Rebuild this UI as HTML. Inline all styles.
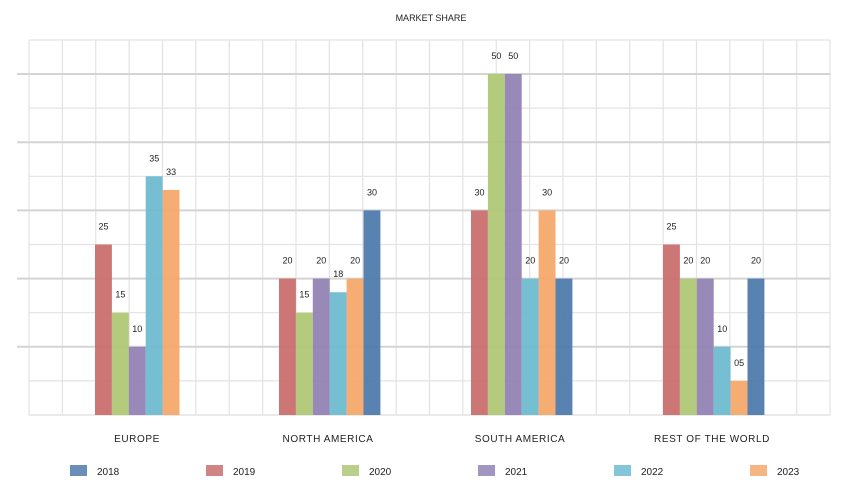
<!DOCTYPE html>
<html><head><meta charset="utf-8"><style>body{margin:0;background:#fff}svg{display:block}text{font-family:"Liberation Sans",sans-serif}</style></head><body>
<svg width="863" height="494" viewBox="0 0 863 494" xmlns="http://www.w3.org/2000/svg">
<text x="431" y="21" font-size="9" text-anchor="middle" fill="#222">MARKET SHARE</text>
<g id="grid"></g>
<g id="bars"></g>
<g id="leg"></g>
<script>
const ns="http://www.w3.org/2000/svg";
function el(p,t,a,txt){const e=document.createElementNS(ns,t);for(const k in a)e.setAttribute(k,a[k]);if(txt!=null)e.textContent=txt;document.getElementById(p).appendChild(e);}
const x0=29,x1=830,y0=40,yb=415;
for(let i=0;i<=24;i++){const x=x0+i*(x1-x0)/24;el('grid','line',{x1:x,x2:x,y1:y0,y2:yb,stroke:'#e3e3e3','stroke-width':1.2});}
el('grid','line',{x1:x0,x2:x1,y1:y0,y2:y0,stroke:'#e3e3e3','stroke-width':1.2});
for(let v=5;v<=50;v+=5){const y=yb-v*6.82;const maj=v%10==0;el('grid','line',{x1:maj?17:x0,x2:x1,y1:y,y2:y,stroke:maj?'#d4d4d4':'#e3e3e3','stroke-width':maj?2:1.2});}
el('grid','line',{x1:x0,x2:x1,y1:yb,y2:yb,stroke:'#e3e3e3','stroke-width':1.5});
const cols=['#c96f6e','#b0c776','#9283b4','#6fbbd0','#f4a96b','#4f7bab'];
const data=[[25,15,10,35,33,0],[20,15,20,18,20,30],[30,50,50,20,30,20],[25,20,20,10,5,20]];
const starts=[95,279,471,663];
const names=['EUROPE','NORTH AMERICA','SOUTH AMERICA','REST OF THE WORLD'];
const lx=[137,328,520,712];
data.forEach((d,g)=>{d.forEach((v,i)=>{if(!v)return;const x=starts[g]+i*16.9;const y=yb-v*6.82;
el('bars','rect',{x:x,y:y,width:16.9,height:v*6.82,fill:cols[i],opacity:0.95});
el('bars','text',{x:x+8.5,y:y-15,'font-size':9,'text-anchor':'middle',fill:'#222'},v<10?'0'+v:''+v);});
el('bars','text',{x:lx[g],y:442,'font-size':10,'text-anchor':'middle',fill:'#222','letter-spacing':'0.6'},names[g]);});
const lc=['#4f7bab','#c96f6e','#b0c776','#9283b4','#6fbbd0','#f4a96b'];
for(let i=0;i<6;i++){const x=70+i*136;el('leg','rect',{x:x,y:465,width:17,height:11,fill:lc[i],opacity:0.85});el('leg','text',{x:x+27,y:475,'font-size':10,fill:'#222'},2018+i);}
</script>
</svg>
</body></html>
